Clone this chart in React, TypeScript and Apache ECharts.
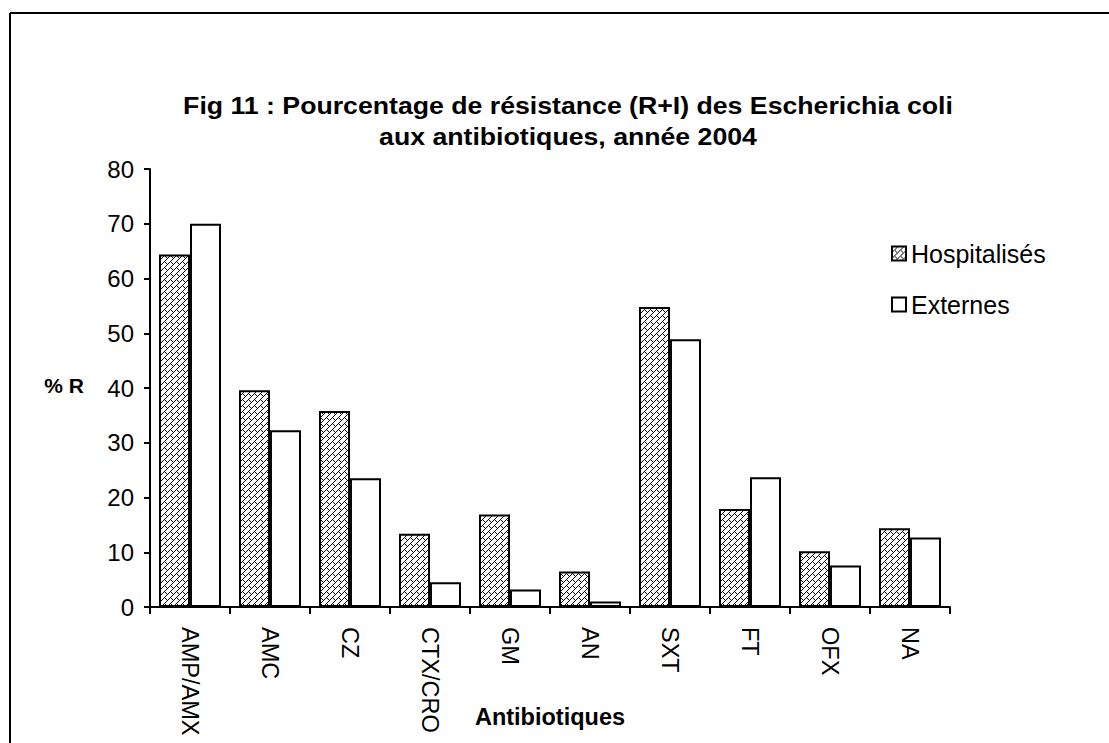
import React, { useEffect, useRef } from "react";
import * as echarts from "echarts";

const categories = ["AMP/AMX", "AMC", "CZ", "CTX/CRO", "GM", "AN", "SXT", "FT", "OFX", "NA"];
const hospitalises = [64.4, 39.6, 35.8, 13.4, 16.9, 6.5, 54.8, 17.9, 10.2, 14.4];
const externes = [70.0, 32.3, 23.5, 4.5, 3.2, 1.0, 48.9, 23.7, 7.6, 12.7];
const yTicks = [0, 10, 20, 30, 40, 50, 60, 70, 80];
const seriesNames = ["Hospitalisés", "Externes"];
const titleLines = ["Fig 11 : Pourcentage de résistance (R+I) des Escherichia coli", "aux antibiotiques, année 2004"];
const yAxisTitle = "% R";
const xAxisTitle = "Antibiotiques";

function makeHatch(): HTMLCanvasElement {
  const c = document.createElement("canvas");
  c.width = 6;
  c.height = 6;
  const ctx = c.getContext("2d")!;
  ctx.fillStyle = "#ffffff";
  ctx.fillRect(0, 0, 6, 6);
  ctx.fillStyle = "#000000";
  const pts = [
    [5, 0], [4, 1], [3, 2], [2, 3], [1, 4], [0, 5],
    [3, 4], [4, 5],
  ];
  pts.forEach(([x, y]) => ctx.fillRect(x, y, 1, 1));
  return c;
}

export default function App() {
  const ref = useRef<HTMLDivElement>(null);
  useEffect(() => {
    document.body.style.margin = "0";
    const chart = echarts.init(ref.current!, undefined, { renderer: "svg" });
    const hatch = makeHatch();
    const font = "'Liberation Sans', Arial, sans-serif";
    chart.setOption({
      animation: false,
      backgroundColor: "#ffffff",
      textStyle: { fontFamily: font, color: "#000" },
      grid: { left: 150, top: 169, width: 800, height: 438, containLabel: false },
      legend: {
        orient: "vertical",
        left: 891,
        top: 241,
        padding: 0,
        itemWidth: 14,
        itemHeight: 14,
        itemGap: 26,
        icon: "rect",
        textStyle: { fontSize: 25, fontFamily: font, color: "#000" },
        data: seriesNames,
      },
      xAxis: {
        type: "category",
        data: categories,
        axisLine: { lineStyle: { color: "#000", width: 2 } },
        axisTick: { show: true, length: 7, lineStyle: { color: "#000", width: 2 } },
        axisLabel: { rotate: -90, fontSize: 23.5, color: "#000", margin: 20, fontFamily: font },
      },
      yAxis: {
        type: "value",
        min: 0,
        max: 80,
        interval: 10,
        splitLine: { show: false },
        axisLine: { show: true, lineStyle: { color: "#000", width: 2 } },
        axisTick: { show: true, length: 6, lineStyle: { color: "#000", width: 2 } },
        axisLabel: {
          fontSize: 24,
          color: "#000",
          margin: 16,
          fontFamily: font,
          formatter: (v: number) => (yTicks.includes(v) ? String(v) : ""),
        },
      },
      graphic: [
        { type: "line", shape: { x1: 10, y1: 13, x2: 1109, y2: 13 }, style: { stroke: "#000", lineWidth: 2 } },
        { type: "line", shape: { x1: 10, y1: 13, x2: 10, y2: 743 }, style: { stroke: "#000", lineWidth: 2 } },
        {
          type: "text",
          x: 568,
          y: 106,
          scaleX: 1.16,
          style: { text: titleLines[0], font: `bold 23px ${font}`, fill: "#000", align: "center", verticalAlign: "middle" },
        },
        {
          type: "text",
          x: 568,
          y: 137,
          scaleX: 1.16,
          style: { text: titleLines[1], font: `bold 23px ${font}`, fill: "#000", align: "center", verticalAlign: "middle" },
        },
        {
          type: "text",
          x: 64,
          y: 385,
          style: { text: yAxisTitle, font: `bold 21px ${font}`, fill: "#000", align: "center", verticalAlign: "middle" },
        },
        {
          type: "text",
          x: 550,
          y: 717,
          style: { text: xAxisTitle, font: `bold 23.5px ${font}`, fill: "#000", align: "center", verticalAlign: "middle" },
        },
      ],
      series: [
        {
          name: seriesNames[0],
          type: "bar",
          data: hospitalises,
          barWidth: 31,
          barGap: "0%",
          itemStyle: { color: { image: hatch, repeat: "repeat" }, borderColor: "#000", borderWidth: 2 },
        },
        {
          name: seriesNames[1],
          type: "bar",
          data: externes,
          barWidth: 31,
          barGap: "0%",
          itemStyle: { color: "#ffffff", borderColor: "#000", borderWidth: 2 },
        },
      ],
    });
    return () => chart.dispose();
  }, []);
  return <div ref={ref} style={{ width: 1109, height: 743 }} />;
}
